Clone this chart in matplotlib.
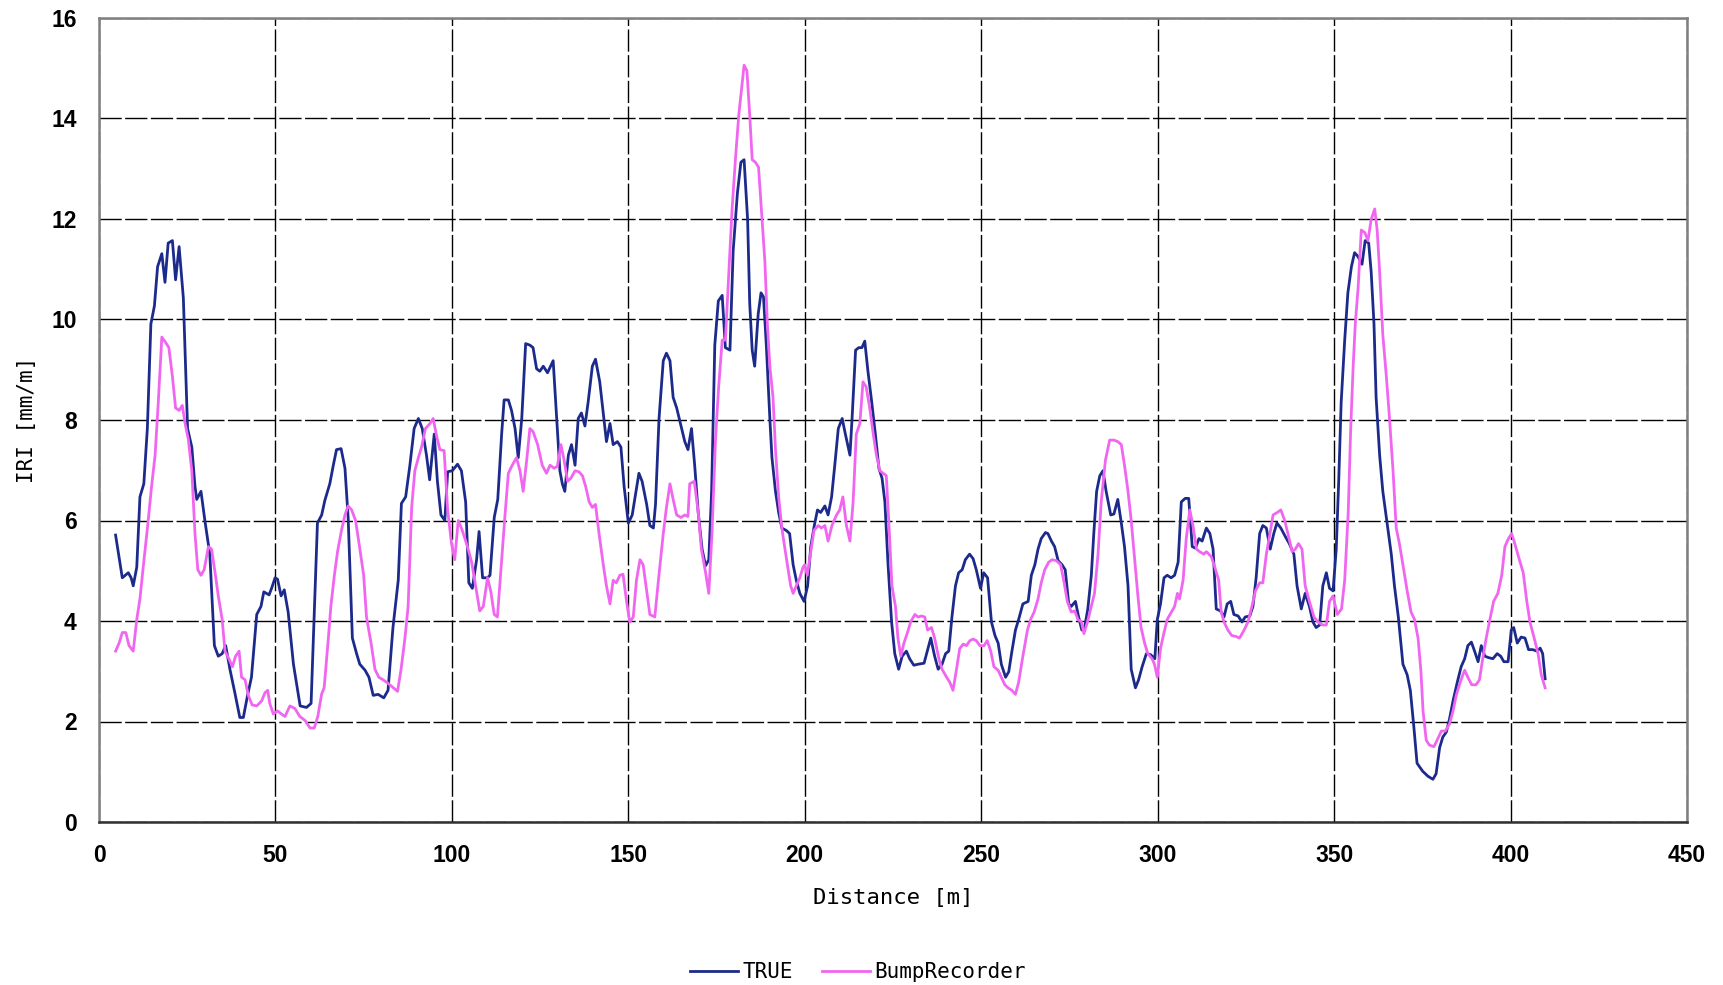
import matplotlib
matplotlib.use("Agg")
import matplotlib.pyplot as plt
import numpy as np

# ---- data ----
true_pts = [(4.7,5.71),(6.6,4.86),(8.3,4.96),(9.1,4.86),(9.7,4.70),(10.7,5.07),(11.6,6.47),(12.7,6.73),(13.7,7.83),(14.7,9.91),(15.7,10.27),(16.6,11.05),(17.8,11.31),(18.7,10.74),(19.6,11.52),(20.8,11.57),(21.7,10.79),(22.7,11.45),(23.9,10.43),(25.1,7.83),(26.3,7.46),(27.2,6.68),(27.7,6.42),(28.9,6.58),(30.0,6.00),(31.4,5.33),(32.7,3.51),(33.8,3.30),(34.9,3.35),(35.9,3.51),(37.1,3.04),(38.5,2.57),(39.9,2.08),(40.9,2.08),(42.1,2.52),(43.2,2.88),(44.7,4.13),(45.9,4.29),(46.7,4.58),(48.2,4.52),(48.9,4.65),(49.9,4.86),(50.6,4.83),(51.6,4.50),(52.5,4.62),(53.6,4.18),(55.1,3.14),(57.0,2.31),(58.8,2.28),(60.1,2.36),(61.9,5.95),(63.1,6.11),(64.0,6.40),(65.4,6.73),(66.4,7.10),(67.3,7.41),(68.6,7.43),(69.7,7.04),(70.6,6.06),(71.8,3.66),(73.0,3.35),(73.9,3.14),(75.4,3.02),(76.5,2.88),(77.7,2.52),(79.1,2.54),(80.7,2.47),(81.9,2.62),(83.3,3.87),(84.8,4.81),(85.7,6.34),(86.9,6.47),(88.1,7.10),(89.3,7.83),(90.5,8.03),(91.6,7.83),(92.8,7.30),(93.7,6.81),(95.0,7.72),(95.9,6.78),(96.9,6.11),(98.0,6.00),(98.8,6.97),(100.1,6.99),(101.6,7.12),(102.7,6.99),(103.9,6.37),(104.8,4.76),(105.8,4.65),(107.0,5.22),(107.7,5.78),(108.7,4.86),(110.1,4.86),(110.8,4.91),(112.0,6.06),(113.0,6.42),(114.1,7.72),(114.8,8.40),(116.0,8.40),(116.9,8.19),(117.9,7.83),(118.8,7.25),(119.8,8.03),(120.9,9.52),(122.1,9.49),(123.0,9.44),(124.0,9.02),(124.9,8.97),(125.9,9.07),(127.1,8.94),(128.7,9.18),(129.6,8.14),(130.6,6.99),(131.3,6.73),(132.0,6.58),(133.0,7.30),(133.9,7.51),(134.9,7.10),(135.8,8.03),(136.7,8.14),(137.7,7.88),(138.6,8.35),(139.8,9.07),(140.7,9.21),(141.9,8.76),(142.9,8.14),(143.8,7.57),(144.8,7.93),(145.7,7.51),(146.9,7.57),(147.9,7.46),(148.8,6.68),(150.0,5.95),(151.1,6.11),(151.8,6.42),(153.0,6.94),(153.9,6.78),(155.2,6.32),(156.1,5.90),(157.1,5.85),(157.7,6.32),(158.7,8.03),(159.9,9.18),(160.8,9.33),(161.8,9.18),(162.7,8.45),(163.7,8.24),(165.1,7.83),(166.0,7.57),(166.9,7.41),(167.9,7.83),(168.8,7.10),(169.8,6.16),(170.9,5.43),(171.9,5.10),(172.8,5.22),(173.6,6.58),(174.5,9.49),(175.5,10.37),(176.6,10.48),(177.5,9.44),(178.8,9.39),(179.7,11.36),(180.9,12.51),(181.9,13.13),(182.8,13.18),(183.8,11.99),(184.4,10.32),(185.1,9.39),(185.8,9.07),(186.8,10.11),(187.6,10.53),(188.3,10.45),(189.1,9.49),(190.1,8.03),(190.7,7.25),(191.7,6.58),(192.6,6.16),(193.5,5.85),(194.8,5.80),(195.7,5.74),(196.7,5.12),(197.6,4.81),(198.6,4.55),(199.8,4.39),(200.8,4.70),(201.7,5.48),(202.7,5.90),(203.6,6.21),(204.5,6.16),(205.7,6.29),(206.6,6.11),(207.6,6.47),(208.5,7.10),(209.5,7.83),(210.6,8.03),(211.5,7.72),(212.8,7.30),(213.4,8.03),(214.4,9.39),(215.3,9.44),(216.2,9.44),(217.0,9.57),(217.9,8.97),(218.9,8.40),(220.0,7.72),(221.0,7.04),(221.9,6.84),(222.7,6.37),(223.6,5.12),(224.6,3.98),(225.5,3.35),(226.6,3.04),(227.6,3.30),(228.8,3.40),(229.7,3.25),(230.9,3.12),(232.1,3.14),(233.8,3.16),(234.7,3.40),(235.7,3.66),(236.8,3.30),(237.8,3.04),(238.9,3.14),(239.9,3.35),(240.8,3.40),(241.7,4.08),(242.7,4.70),(243.6,4.96),(244.6,5.02),(245.5,5.22),(246.7,5.33),(247.7,5.24),(248.6,5.02),(249.8,4.65),(250.7,4.96),(251.8,4.86),(252.9,3.98),(253.9,3.71),(254.8,3.56),(255.7,3.14),(256.9,2.88),(257.8,2.99),(258.7,3.40),(259.7,3.82),(260.6,4.03),(261.8,4.34),(263.3,4.39),(264.2,4.91),(265.2,5.12),(266.1,5.43),(267.0,5.64),(268.2,5.76),(268.9,5.74),(269.9,5.59),(270.8,5.48),(271.8,5.20),(272.9,5.12),(273.8,5.02),(274.8,4.34),(275.5,4.29),(276.7,4.39),(277.6,4.08),(278.5,3.82),(279.3,3.87),(280.2,4.24),(281.2,4.91),(281.9,5.74),(282.7,6.58),(283.6,6.89),(284.5,6.99),(285.4,6.58),(286.7,6.11),(287.6,6.13),(288.7,6.42),(289.7,5.95),(290.6,5.48),(291.6,4.70),(292.5,3.04),(293.7,2.67),(294.6,2.83),(295.6,3.09),(296.8,3.35),(298.0,3.33),(299.2,3.25),(299.9,4.03),(300.8,4.34),(301.8,4.86),(302.7,4.91),(303.8,4.86),(304.8,4.91),(305.8,5.17),(306.7,6.37),(307.8,6.44),(308.8,6.44),(309.8,5.48),(310.7,5.45),(311.7,5.64),(312.6,5.59),(313.8,5.85),(314.8,5.74),(315.7,5.43),(316.6,4.24),(317.8,4.20),(318.8,4.08),(319.7,4.34),(320.7,4.39),(321.6,4.13),(322.8,4.10),(323.9,3.98),(324.8,4.08),(326.1,4.10),(327.0,4.29),(327.9,4.86),(328.9,5.74),(329.8,5.90),(330.8,5.85),(331.9,5.43),(332.9,5.74),(333.8,5.95),(334.9,5.85),(336.1,5.69),(337.3,5.54),(338.6,5.33),(339.5,4.70),(340.7,4.24),(341.8,4.55),(343.0,4.29),(344.0,3.98),(344.9,3.87),(345.9,3.92),(346.8,4.70),(347.8,4.96),(348.7,4.65),(349.7,4.60),(350.6,5.43),(351.3,6.78),(352.0,8.35),(353.0,9.59),(353.9,10.53),(354.9,11.05),(355.8,11.33),(356.7,11.26),(357.9,11.10),(358.8,11.57),(359.8,11.52),(360.5,10.95),(361.3,9.91),(361.9,8.45),(362.9,7.30),(363.8,6.58),(365.0,5.95),(366.2,5.33),(367.1,4.70),(368.2,4.08),(369.5,3.14),(370.7,2.93),(371.6,2.62),(372.6,1.89),(373.5,1.17),(375.1,1.01),(376.6,0.91),(378.0,0.85),(378.9,0.96),(379.9,1.48),(380.8,1.69),(381.8,1.79),(382.7,2.05),(383.7,2.41),(384.9,2.78),(386.0,3.09),(387.0,3.25),(387.9,3.51),(388.9,3.58),(389.8,3.40),(390.8,3.19),(391.7,3.51),(392.7,3.30),(393.8,3.27),(395.0,3.25),(396.2,3.35),(397.2,3.30),(398.1,3.19),(399.3,3.19),(400.2,3.82),(400.9,3.87),(401.9,3.56),(403.0,3.68),(404.1,3.66),(405.1,3.43),(406.3,3.43),(407.5,3.40),(408.4,3.46),(409.1,3.35),(409.8,2.85)]

bump_pts = [(4.7,3.40),(5.7,3.56),(6.6,3.77),(7.6,3.77),(8.5,3.51),(9.7,3.40),(10.7,4.03),(11.6,4.44),(12.6,5.12),(13.8,5.90),(14.9,6.68),(15.9,7.30),(16.8,8.35),(17.8,9.65),(18.9,9.54),(19.8,9.44),(20.8,8.87),(21.7,8.24),(22.7,8.19),(23.6,8.29),(24.4,7.93),(25.3,7.62),(26.3,6.99),(27.2,5.74),(28.0,5.02),(28.9,4.91),(29.8,5.02),(31.0,5.48),(31.9,5.43),(33.0,4.91),(33.8,4.50),(34.9,4.03),(35.7,3.40),(36.8,3.25),(37.8,3.09),(38.7,3.30),(39.7,3.40),(40.4,2.88),(41.4,2.83),(42.3,2.52),(43.4,2.33),(44.7,2.31),(46.1,2.41),(47.0,2.57),(47.8,2.62),(48.4,2.36),(49.4,2.15),(50.6,2.21),(51.7,2.15),(52.7,2.10),(54.1,2.31),(55.5,2.26),(56.9,2.10),(58.4,2.02),(59.8,1.87),(61.0,1.87),(62.0,2.10),(63.1,2.55),(63.8,2.67),(65.0,3.66),(65.7,4.29),(66.7,4.91),(67.6,5.38),(68.7,5.80),(69.7,6.11),(70.6,6.29),(71.6,6.21),(72.7,6.00),(73.7,5.54),(75.0,4.91),(75.8,4.08),(77.1,3.56),(78.2,3.04),(79.3,2.88),(80.5,2.83),(81.9,2.76),(83.4,2.67),(84.6,2.60),(85.6,3.04),(86.7,3.66),(87.6,4.29),(88.6,6.26),(89.5,6.99),(90.5,7.25),(91.4,7.46),(92.5,7.83),(93.8,7.93),(94.7,8.03),(95.7,7.67),(96.6,7.41),(97.8,7.39),(98.8,6.21),(99.9,5.54),(100.8,5.22),(101.8,6.00),(102.7,5.85),(103.7,5.64),(104.6,5.43),(105.6,5.17),(106.7,4.70),(107.9,4.20),(108.9,4.29),(110.1,4.86),(111.0,4.60),(112.0,4.13),(112.9,4.08),(113.9,5.02),(115.0,6.06),(116.0,6.94),(117.1,7.10),(118.3,7.25),(119.3,6.99),(120.2,6.58),(121.2,7.20),(122.1,7.83),(123.0,7.77),(124.3,7.51),(125.6,7.10),(126.8,6.94),(127.8,7.10),(129.0,7.04),(129.9,7.08),(130.9,7.51),(131.8,7.20),(132.8,6.78),(133.7,6.84),(134.9,6.99),(136.0,6.97),(137.0,6.89),(137.9,6.68),(138.9,6.37),(139.8,6.26),(140.7,6.32),(141.7,5.74),(142.9,5.12),(143.8,4.70),(144.8,4.34),(145.7,4.81),(146.6,4.76),(147.6,4.91),(148.5,4.93),(149.5,4.39),(150.4,3.98),(151.4,4.08),(152.3,4.81),(153.3,5.22),(154.2,5.12),(155.2,4.60),(156.1,4.13),(157.5,4.08),(158.6,4.86),(159.9,5.74),(160.8,6.26),(161.8,6.73),(162.7,6.42),(163.7,6.11),(164.9,6.06),(166.0,6.11),(166.9,6.08),(167.4,6.73),(168.7,6.78),(169.8,6.16),(170.7,5.43),(171.9,4.96),(172.8,4.55),(173.7,5.74),(174.7,7.62),(175.6,8.66),(176.6,9.59),(177.5,9.59),(178.5,10.95),(179.4,12.20),(180.4,13.24),(181.3,14.07),(182.1,14.59),(182.8,15.06),(183.6,14.95),(184.4,14.07),(185.1,13.18),(186.0,13.13),(186.9,13.03),(187.8,12.10),(188.7,11.15),(189.4,9.91),(190.1,9.07),(191.0,8.45),(191.7,7.41),(192.6,6.47),(193.5,5.85),(194.5,5.38),(195.3,5.02),(196.0,4.70),(196.7,4.55),(197.6,4.70),(198.6,4.86),(199.5,5.07),(200.0,5.12),(200.7,4.91),(201.7,5.38),(202.6,5.80),(203.8,5.90),(204.7,5.85),(205.7,5.90),(206.6,5.59),(207.7,5.90),(209.0,6.11),(209.9,6.21),(210.8,6.47),(211.8,5.90),(212.8,5.59),(213.7,6.37),(214.6,7.72),(215.6,7.93),(216.5,8.76),(217.4,8.66),(218.4,8.24),(219.4,7.72),(220.3,7.30),(221.3,6.99),(222.2,6.94),(223.1,6.89),(223.9,5.85),(224.7,4.70),(225.7,4.29),(226.4,3.66),(227.2,3.30),(228.1,3.56),(229.1,3.77),(230.0,3.98),(231.2,4.13),(232.1,4.08),(233.1,4.10),(234.0,4.08),(234.8,3.82),(235.9,3.87),(236.8,3.66),(238.0,3.25),(238.9,3.04),(240.2,2.88),(241.1,2.78),(242.0,2.62),(243.0,3.04),(243.9,3.45),(244.9,3.54),(245.8,3.51),(246.8,3.61),(247.7,3.64),(248.6,3.61),(249.6,3.51),(250.8,3.51),(251.7,3.61),(252.7,3.40),(253.6,3.09),(254.8,3.02),(255.7,2.88),(256.7,2.73),(257.6,2.67),(258.7,2.62),(259.7,2.54),(260.6,2.78),(261.8,3.30),(263.1,3.82),(264.0,4.03),(265.0,4.18),(266.1,4.44),(267.0,4.76),(268.0,5.02),(269.1,5.17),(270.1,5.22),(271.3,5.20),(272.5,5.12),(273.5,4.76),(274.4,4.39),(275.5,4.18),(276.5,4.20),(277.4,4.03),(278.4,3.98),(279.1,3.75),(280.1,3.98),(281.0,4.24),(282.1,4.55),(283.1,5.33),(284.0,6.37),(285.2,7.20),(286.4,7.60),(287.6,7.60),(288.7,7.57),(289.7,7.51),(290.6,7.10),(291.6,6.58),(292.5,6.00),(293.5,5.22),(294.4,4.50),(295.3,3.87),(296.3,3.56),(297.2,3.35),(298.4,3.25),(299.1,3.14),(299.9,2.88),(300.8,3.45),(301.8,3.77),(302.7,4.03),(303.9,4.18),(304.8,4.29),(305.6,4.55),(306.2,4.44),(307.2,4.81),(308.1,5.64),(309.1,6.21),(310.0,5.90),(311.0,5.43),(311.9,5.38),(313.1,5.33),(313.8,5.38),(315.2,5.28),(316.2,5.07),(317.3,4.81),(318.0,4.18),(318.8,3.98),(319.9,3.82),(321.0,3.71),(322.3,3.69),(323.2,3.66),(324.5,3.82),(325.6,3.98),(326.7,4.29),(327.7,4.60),(328.9,4.76),(329.8,4.76),(330.8,5.33),(331.7,5.69),(332.7,6.11),(333.9,6.16),(334.9,6.21),(336.0,6.00),(336.9,5.74),(338.1,5.38),(339.0,5.43),(339.9,5.54),(340.9,5.43),(341.8,4.70),(343.0,4.39),(344.3,4.08),(345.4,3.98),(346.8,3.92),(347.8,3.92),(348.7,4.39),(349.7,4.50),(350.9,4.13),(352.1,4.24),(353.0,4.81),(354.0,6.16),(354.7,7.83),(355.4,9.07),(356.0,9.91),(356.8,10.63),(357.7,11.78),(358.7,11.73),(359.6,11.57),(360.5,11.99),(361.5,12.20),(362.2,11.78),(362.9,10.95),(363.8,9.70),(364.8,8.87),(365.7,8.03),(366.7,6.99),(367.6,5.85),(368.5,5.54),(369.5,5.12),(370.7,4.60),(371.8,4.18),(372.8,4.03),(373.8,3.65),(374.6,3.00),(375.2,2.21),(376.1,1.63),(377.0,1.53),(378.3,1.50),(379.2,1.63),(380.4,1.81),(381.5,1.81),(382.7,1.95),(383.7,2.21),(384.6,2.52),(385.5,2.73),(386.5,2.93),(387.0,3.02),(387.9,2.88),(389.0,2.73),(390.2,2.73),(391.2,2.83),(392.1,3.25),(393.1,3.66),(394.0,3.98),(395.2,4.39),(396.4,4.55),(397.5,4.91),(398.4,5.48),(399.4,5.64),(400.3,5.74),(401.2,5.54),(402.5,5.22),(403.6,4.96),(404.6,4.39),(405.5,3.98),(406.7,3.66),(407.8,3.35),(408.7,2.93),(409.8,2.67)]

x_ticks = [0, 50, 100, 150, 200, 250, 300, 350, 400, 450]
y_ticks = [0, 2, 4, 6, 8, 10, 12, 14, 16]
series_names = ["TRUE", "BumpRecorder"]

true_x, true_y = np.array(true_pts).T
bump_x, bump_y = np.array(bump_pts).T

# ---- figure ----
fig = plt.figure(figsize=(17.23, 9.85), dpi=100)
ax = fig.add_axes([99/1723, 1 - 822/985, (1687-99)/1723, (822-18)/985])

ax.plot(true_x, true_y, color="#1c2a8c", lw=2.0, label=series_names[0], zorder=3)
ax.plot(bump_x, bump_y, color="#f066f0", lw=2.0, label=series_names[1], zorder=3)

ax.set_xlim(0, 450)
ax.set_ylim(0, 16)
ax.set_xticks(x_ticks)
ax.set_yticks(y_ticks)
ax.grid(True, color="black", lw=1.0, linestyle=(0, (16, 2.5)), zorder=1)

for s in ax.spines.values():
    s.set_color("#808080")
    s.set_linewidth(1.8)
ax.spines["bottom"].set_color("#303030")

ax.tick_params(axis="x", length=0, pad=16)
ax.tick_params(axis="y", length=0, pad=16)
for lbl in ax.get_xticklabels() + ax.get_yticklabels():
    lbl.set_fontfamily("Liberation Sans")
    lbl.set_fontweight("bold")
    lbl.set_fontsize(16.5)

ax.set_xlabel("Distance [m]", fontfamily="DejaVu Sans Mono", fontsize=16, labelpad=15)
ax.set_ylabel("IRI [mm/m]", fontfamily="DejaVu Sans Mono", fontsize=15, labelpad=10)

fig.legend(loc="center", bbox_to_anchor=(0.498, 0.013), ncol=2, frameon=False,
           prop={"family": "DejaVu Sans Mono", "size": 15},
           handlelength=2.3, handletextpad=0.2, columnspacing=1.4)

fig.savefig("out.png", dpi=100)
